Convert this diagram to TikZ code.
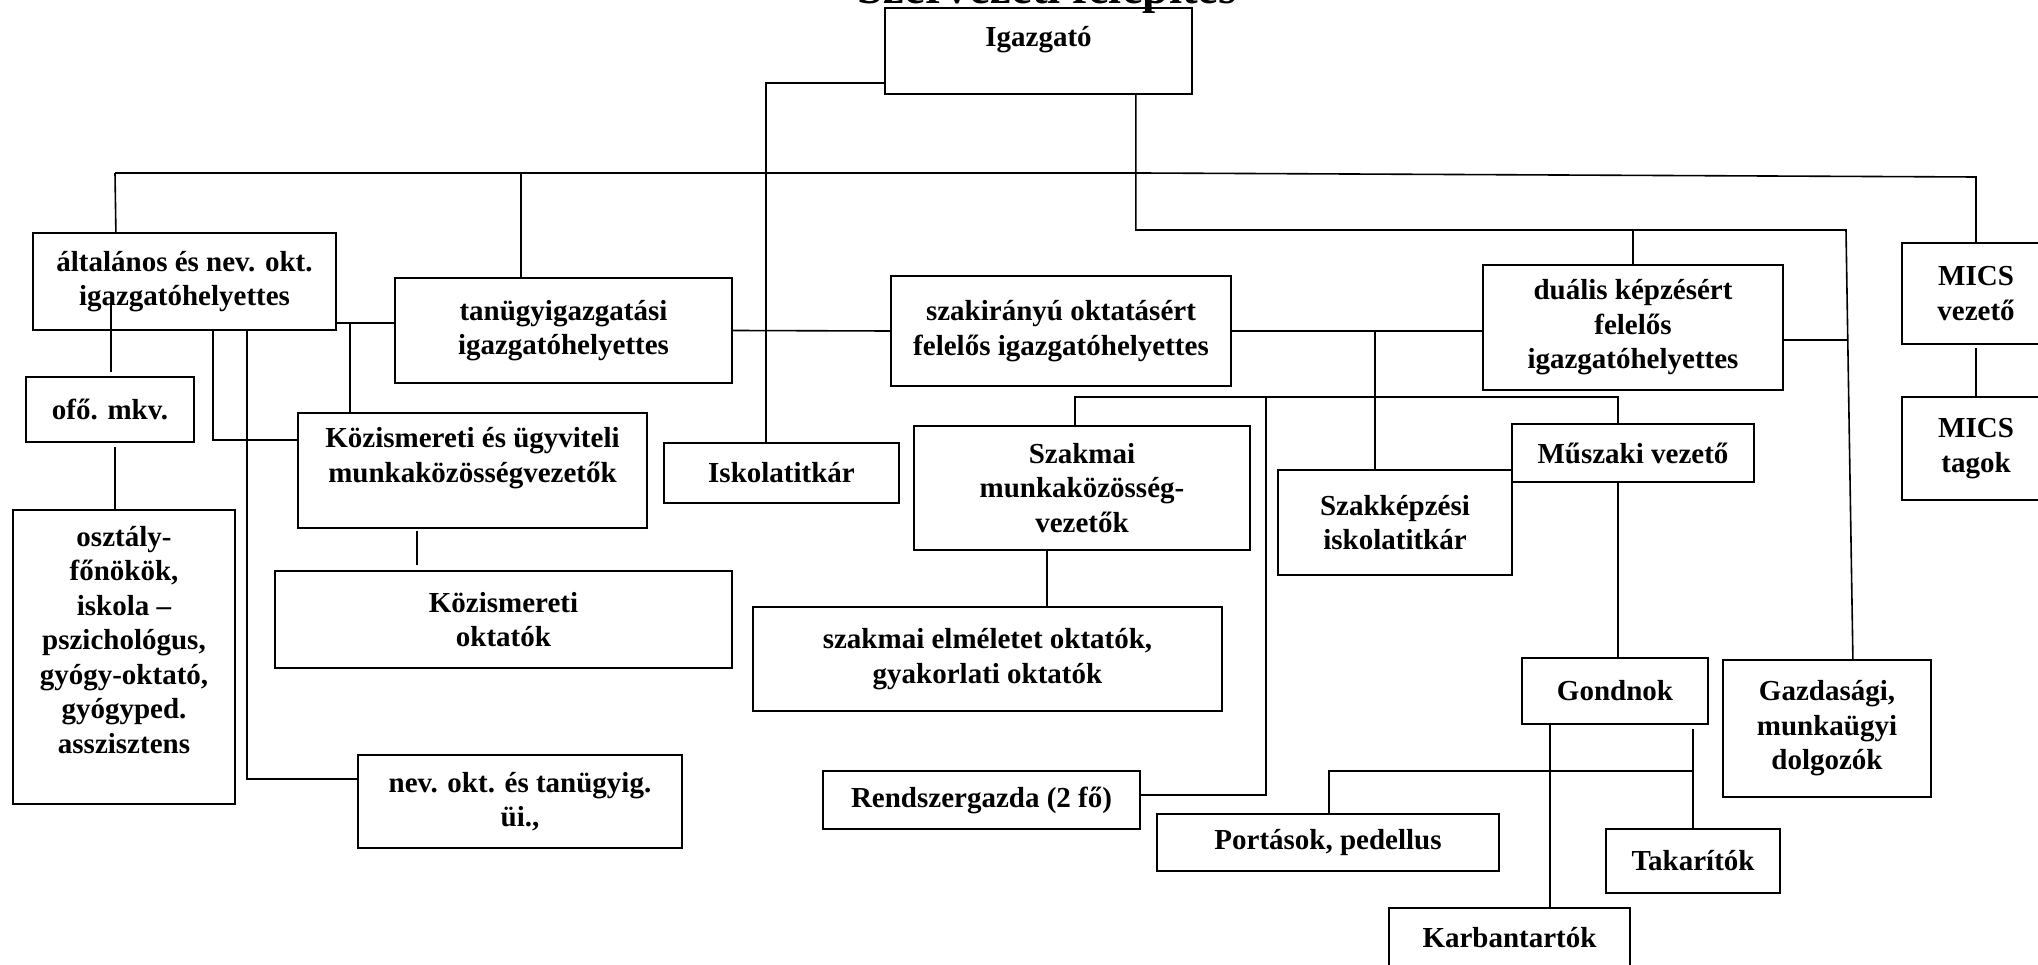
\documentclass[tikz,border=0pt]{standalone}
\usepackage{fontspec}
\setmainfont{Liberation Serif}
\begin{document}
\begin{tikzpicture}[x=1pt,y=-1pt,
  box/.style={draw, line width=2.2pt, rectangle, inner sep=0pt, align=center,
    font=\fontsize{29}{34.5}\selectfont\bfseries},
  txt/.style={inner sep=0pt, align=center, font=\fontsize{29}{34.5}\selectfont\bfseries},
  conn/.style={line width=1.6pt}]
\useasboundingbox (0,0) rectangle (2038,965);
\clip (0,0) rectangle (2038,965);

% title (mostly cut off at the top)
\node[inner sep=0pt, anchor=base, font=\fontsize{47}{50}\selectfont\bfseries] (title) at (1047,4) {Szervezeti felépítés};

% boxes
\node[box, minimum width=307pt, minimum height=86pt] (igaz) at (1038.5,51) {};
\node[txt, anchor=base] (igazT) at (1038.5,47) {Igazgató};
\node[box, minimum width=303pt, minimum height=97pt] (alt) at (184.5,281.5) {általános és nev. okt.\\igazgatóhelyettes};
\node[box, minimum width=337pt, minimum height=105pt] (tan) at (563.5,330.5) {tanügyigazgatási\\igazgatóhelyettes};
\node[box, minimum width=340pt, minimum height=110pt] (szak) at (1061,331) {szakirányú oktatásért\\felelős igazgatóhelyettes};
\node[box, minimum width=300pt, minimum height=125pt] (dual) at (1633,327.5) {duális képzésért\\felelős\\igazgatóhelyettes};
\node[box, minimum width=148pt, minimum height=101pt] (micsv) at (1976,293.5) {MICS\\vezető};
\node[box, minimum width=148pt, minimum height=103pt] (micst) at (1976,448.5) {MICS\\tagok};
\node[box, minimum width=168pt, minimum height=65pt] (ofo) at (110,409.5) {ofő. mkv.};
\node[box, minimum width=222pt, minimum height=294pt] (oszt) at (124,657) {};
\node[txt] (osztT) at (124,640) {osztály-\\főnökök,\\iskola –\\pszichológus,\\gyógy-oktató,\\gyógyped.\\asszisztens};
\node[box, minimum width=349pt, minimum height=115pt] (kozu) at (472.5,470.5) {};
\node[txt] (kozuT) at (472.5,458) {Közismereti és ügyviteli\\munkaközösségvezetők};
\node[box, minimum width=457pt, minimum height=97pt] (kozo) at (503.5,619.5) {Közismereti\\oktatók};
\node[box, minimum width=324pt, minimum height=93pt] (nev) at (520,801.5) {nev. okt. és tanügyig.\\üi.,};
\node[box, minimum width=235pt, minimum height=60pt] (isk) at (781.5,473) {Iskolatitkár};
\node[box, minimum width=336pt, minimum height=124pt] (szmk) at (1082,488) {Szakmai\\munkaközösség-\\vezetők};
\node[box, minimum width=469pt, minimum height=104pt] (szeo) at (987.5,659) {szakmai elméletet oktatók,\\gyakorlati oktatók};
\node[box, minimum width=317pt, minimum height=58pt] (rend) at (981.5,800) {Rendszergazda (2 fő)};
\node[box, minimum width=234pt, minimum height=105pt] (szki) at (1395,522.5) {Szakképzési\\iskolatitkár};
\node[box, minimum width=242pt, minimum height=58pt] (musz) at (1633,453) {Műszaki vezető};
\node[box, minimum width=186pt, minimum height=66pt] (gond) at (1615,691) {Gondnok};
\node[box, minimum width=208pt, minimum height=137pt] (gazd) at (1827,728.5) {Gazdasági,\\munkaügyi\\dolgozók};
\node[box, minimum width=342pt, minimum height=57pt] (port) at (1328,842.5) {Portások, pedellus};
\node[box, minimum width=174pt, minimum height=64pt] (tak) at (1693,861) {Takarítók};
\node[box, minimum width=241pt, minimum height=60pt] (karb) at (1509.5,938) {Karbantartók};

% junction coordinates
\coordinate (j1) at (766,83);
\coordinate (bL) at (115,173);
\coordinate (bM) at (1140,173);
\coordinate (bR) at (1976,177);
\coordinate (c2) at (1846,230);
\coordinate (j3) at (350,323);
\coordinate (j4) at (213,440);
\coordinate (j5) at (247,779);
\coordinate (j6a) at (111,303);
\coordinate (j6b) at (111,372);
\coordinate (j7) at (115,447);
\coordinate (j8) at (417,531);
\coordinate (j9) at (1375,332);
\coordinate (k1) at (1075,397);
\coordinate (k2) at (1618,397);
\coordinate (k3) at (1266,397);
\coordinate (k4) at (1266,795);
\coordinate (m1) at (1047,550);
\coordinate (n1) at (1550,724);
\coordinate (p1) at (1693,729);
\coordinate (p2) at (1329,771);
\coordinate (q1) at (1848,340);

% connectors
\draw[conn] (igaz.west |- j1) -| (isk.north -| j1);
\draw[conn] (bL) -- (bM) -- (bR) -- (micsv.north);
\draw[conn] (bL) -- ([xshift=84pt]alt.north west);
\draw[conn] ([xshift=127pt]tan.north west) -- ([xshift=127pt]tan.north west |- bL);
\draw[conn] ([xshift=252pt]igaz.south west) |- (c2) -- ([xshift=131pt]gazd.north west);
\draw[conn] (dual.north) -- (dual.north |- c2);
\draw[conn] (alt.east |- j3) -- (tan.west |- j3);
\draw[conn] (j3) -- (kozu.north -| j3);
\draw[conn] (alt.south -| j4) |- (kozu.west |- j4);
\draw[conn] (alt.south -| j5) |- (nev.west |- j5);
\draw[conn] (j6a) -- (j6b);
\draw[conn] (j7) -- (oszt.north -| j7);
\draw[conn] (j8) -- ([yshift=5pt]kozo.north -| j8);
\draw[conn] (tan.east) -- (szak.west);
\draw[conn] (szak.east) -- (dual.west |- szak.east);
\draw[conn] (j9) -- (szki.north -| j9);
\draw[conn] (szmk.north -| k1) |- (k2) -- (musz.north -| k2);
\draw[conn] (k3) -- (k4) -- (rend.east |- k4);
\draw[conn] (szmk.south -| m1) -- (szeo.north -| m1);
\draw[conn] (musz.south -| k2) -- (gond.north -| k2);
\draw[conn] (n1) -- (karb.north -| n1);
\draw[conn] (p1) -- (tak.north);
\draw[conn] (p1 |- p2) -- (p2) -- (port.north -| p2);
\draw[conn] (dual.east |- q1) -- (q1);
\draw[conn] ([yshift=-3pt]micsv.south) -- (micst.north);
\end{tikzpicture}
\end{document}
